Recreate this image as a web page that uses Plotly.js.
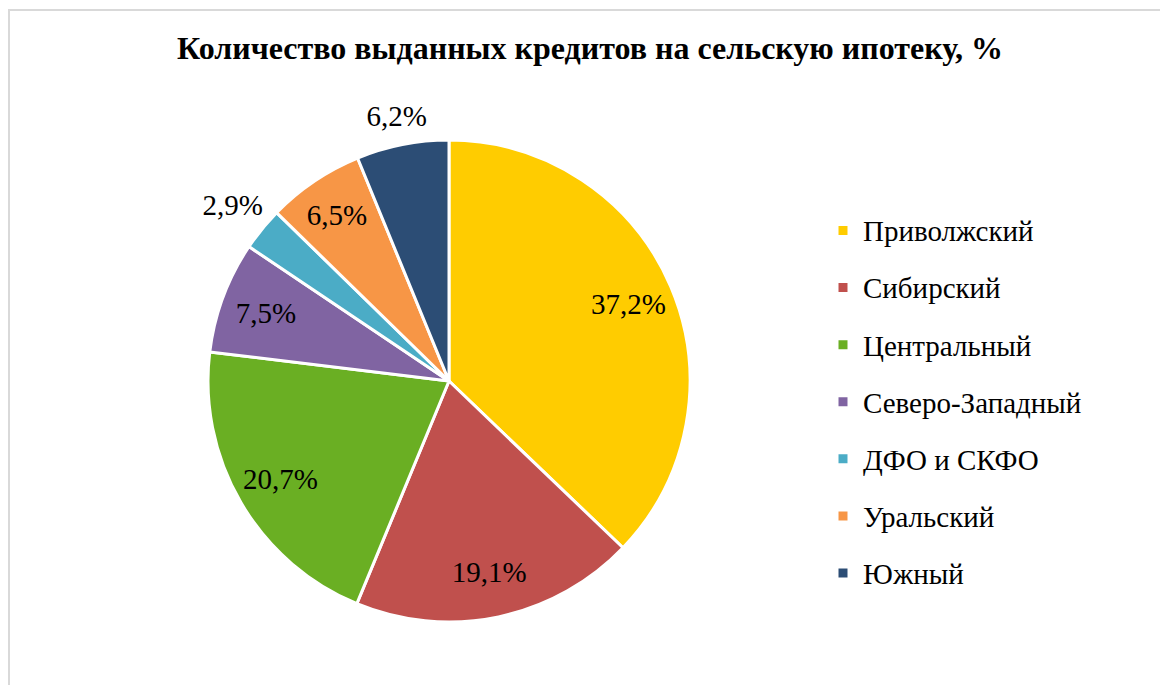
<!DOCTYPE html>
<html>
<head>
<meta charset="utf-8">
<script src="https://cdn.plot.ly/plotly-3.0.1.min.js"></script>
<style>
  html, body { margin: 0; padding: 0; background: #fff; }
  #chart { width: 1160px; height: 685px; }
</style>
</head>
<body>
<div id="chart"></div>
<script>
const titleText = 'Количество выданных кредитов на сельскую ипотеку, %';
const categories = ['Приволжский', 'Сибирский', 'Центральный', 'Северо-Западный', 'ДФО и СКФО', 'Уральский', 'Южный'];
const shares = [37.2, 19.1, 20.7, 7.5, 2.9, 6.5, 6.2];
const colors = ['#FFCC00', '#C0504D', '#6AAF23', '#8064A2', '#4BACC6', '#F79646', '#2C4D75'];
const labelOutside = [false, false, false, false, true, false, true];

const FONT = 'Liberation Serif';
const legendFontSize = 29;
const labelFontSize = 29;
// pad legend entries with empty lines so entries are spaced like the original
const legendLabels = categories.map(c => '\u00a0<br>\u00a0<br><span style="font-size:' + legendFontSize + 'px">' + c + '</span><br>\u00a0');

const CX = 449, CY = 381, R = 241, W = 1160, H = 685;
const pieDomain = { x: [(CX - R) / W, (CX + R) / W], y: [(H - CY - R) / H, (H - CY + R) / H] };
const R2 = H - CY;
const outerDomain = { x: [(CX - R2) / W, (CX + R2) / W], y: [0, 2 * R2 / H] };
const transparent = categories.map(() => 'rgba(0,0,0,0)');

const common = {
  type: 'pie',
  labels: legendLabels,
  values: shares,
  sort: false,
  direction: 'clockwise',
  rotation: 0,
  hoverinfo: 'none'
};

// visible slices
const slices = Object.assign({}, common, {
  marker: { colors: colors, line: { color: '#ffffff', width: 3 } },
  textinfo: 'none',
  domain: pieDomain
});

// transparent ring on top: places the inside data labels nearer the rim
const innerLabels = Object.assign({}, common, {
  hole: 0.62,
  showlegend: false,
  marker: { colors: transparent, line: { width: 0 } },
  texttemplate: '%{value:.1f}%',
  textposition: labelOutside.map(o => o ? 'none' : 'inside'),
  insidetextorientation: 'horizontal',
  textfont: { family: FONT, size: labelFontSize, color: '#000000' },
  domain: pieDomain
});

// larger transparent ring: places the labels of the thin slices outside the pie
const outerLabels = Object.assign({}, common, {
  hole: 0.78,
  showlegend: false,
  marker: { colors: transparent, line: { width: 0 } },
  texttemplate: '%{value:.1f}%',
  textposition: labelOutside.map(o => o ? 'inside' : 'none'),
  insidetextorientation: 'horizontal',
  textfont: { family: FONT, size: labelFontSize, color: '#000000' },
  domain: outerDomain
});

const layout = {
  width: W,
  height: H,
  margin: { l: 0, r: 0, t: 0, b: 0 },
  paper_bgcolor: '#ffffff',
  separators: ', ',
  font: { family: FONT, color: '#000000' },
  title: {
    text: '<b>' + titleText + '</b>',
    font: { family: FONT, size: 32, color: '#000000' },
    x: 590 / W, xanchor: 'center', xref: 'paper',
    y: 1 - 48 / H, yanchor: 'middle', yref: 'paper'
  },
  uniformtext: { mode: 'show', minsize: labelFontSize },
  showlegend: true,
  legend: {
    x: 823 / W, xanchor: 'left',
    y: 1 - 197 / H, yanchor: 'top',
    font: { family: FONT, size: 10.4, color: '#000000' },
    bgcolor: 'rgba(0,0,0,0)',
    traceorder: 'normal'
  },
  shapes: [{
    type: 'rect', xref: 'paper', yref: 'paper',
    x0: 9 / W, x1: 1.01, y0: -0.01, y1: 1 - 10 / H,
    line: { color: '#d9d9d9', width: 2 }, fillcolor: 'rgba(0,0,0,0)', layer: 'below'
  }]
};

Plotly.newPlot('chart', [slices, innerLabels, outerLabels], layout, { displayModeBar: false, staticPlot: true });
</script>
</body>
</html>
